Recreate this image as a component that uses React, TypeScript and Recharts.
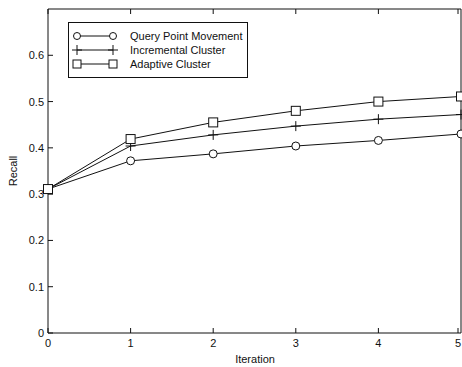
import React from 'react';
import { LineChart, Line, XAxis, YAxis } from 'recharts';

const iterations = [0, 1, 2, 3, 4, 5];
const yTicks = [0, 0.1, 0.2, 0.3, 0.4, 0.5, 0.6];
const queryPointMovement = [0.311, 0.372, 0.387, 0.404, 0.416, 0.43];
const incrementalCluster = [0.311, 0.404, 0.428, 0.447, 0.462, 0.472];
const adaptiveCluster = [0.311, 0.419, 0.455, 0.48, 0.5, 0.511];

const data = iterations.map((it, i) => ({
  iteration: it,
  query: queryPointMovement[i],
  incremental: incrementalCluster[i],
  adaptive: adaptiveCluster[i],
}));

const INK = '#111';
const FONT = '"Liberation Sans", Arial, sans-serif';

// marker shapes, same as the matlab ones
const circleDot = (p: any) => (
  <circle key={p.key} cx={p.cx} cy={p.cy} r={4} fill="#fff" stroke={INK} strokeWidth={1} />
);
const plusDot = (p: any) => (
  <path key={p.key} d={`M${p.cx - 5},${p.cy}H${p.cx + 5}M${p.cx},${p.cy - 5}V${p.cy + 5}`} stroke={INK} strokeWidth={1} />
);
const squareDot = (p: any) => (
  <rect key={p.key} x={p.cx - 4.5} y={p.cy - 4.5} width={9} height={9} fill="#fff" stroke={INK} strokeWidth={1} />
);

// inward tick marks, labels outside
const BottomTick = (p: any) => (
  <g>
    <line x1={p.x} x2={p.x} y1={p.y} y2={p.y - 5} stroke={INK} />
    <text x={p.x} y={p.y + 14} textAnchor="middle" fontSize={11} fontFamily={FONT} fill={INK}>
      {p.payload.value}
    </text>
  </g>
);
const TopTick = (p: any) => <line x1={p.x} x2={p.x} y1={p.y} y2={p.y + 5} stroke={INK} />;
const LeftTick = (p: any) => (
  <g>
    <line x1={p.x} x2={p.x + 5} y1={p.y} y2={p.y} stroke={INK} />
    <text x={p.x - 4} y={p.y + 4} textAnchor="end" fontSize={11} fontFamily={FONT} fill={INK}>
      {p.payload.value}
    </text>
  </g>
);
const RightTick = (p: any) => <line x1={p.x} x2={p.x - 5} y1={p.y} y2={p.y} stroke={INK} />;

const legendItems = [
  { name: 'Query Point Movement', marker: 'circle' },
  { name: 'Incremental Cluster', marker: 'plus' },
  { name: 'Adaptive Cluster', marker: 'square' },
];

const LegendMarker = ({ kind, x, y }: { kind: string; x: number; y: number }) => {
  if (kind === 'circle') return <circle cx={x} cy={y} r={3.5} fill="#fff" stroke={INK} />;
  if (kind === 'plus')
    return <path d={`M${x - 5},${y}H${x + 5}M${x},${y - 5}V${y + 5}`} stroke={INK} />;
  return <rect x={x - 4} y={y - 4} width={8} height={8} fill="#fff" stroke={INK} />;
};

export default function App() {
  return (
    <div style={{ position: 'absolute', left: 0, top: 0, width: 462, height: 367, background: '#fff' }}>
      <LineChart width={462} height={367} data={data} margin={{ top: 0, right: 0, bottom: 0, left: 0 }}>
        <XAxis
          dataKey="iteration"
          type="number"
          domain={[0, 5]}
          ticks={iterations}
          height={34}
          tickSize={0}
          tickMargin={0}
          tick={BottomTick}
          axisLine={{ stroke: INK }}
        />
        <XAxis
          xAxisId="top"
          orientation="top"
          dataKey="iteration"
          type="number"
          domain={[0, 5]}
          ticks={iterations}
          height={9}
          tickSize={0}
          tickMargin={0}
          tick={TopTick}
          axisLine={{ stroke: INK }}
        />
        <YAxis
          type="number"
          domain={[0, 0.7]}
          ticks={yTicks}
          width={48}
          tickSize={0}
          tickMargin={0}
          tick={LeftTick}
          axisLine={{ stroke: INK }}
        />
        <YAxis
          yAxisId="right"
          orientation="right"
          type="number"
          domain={[0, 0.7]}
          ticks={yTicks}
          width={1}
          tickSize={0}
          tickMargin={0}
          tick={RightTick}
          axisLine={{ stroke: INK }}
        />
        <Line dataKey="query" stroke={INK} strokeWidth={1} dot={circleDot} isAnimationActive={false} />
        <Line dataKey="incremental" stroke={INK} strokeWidth={1} dot={plusDot} isAnimationActive={false} />
        <Line dataKey="adaptive" stroke={INK} strokeWidth={1} dot={squareDot} isAnimationActive={false} />
      </LineChart>

      <div
        style={{
          position: 'absolute',
          left: 68,
          top: 22,
          width: 180,
          height: 56,
          border: `1px solid ${INK}`,
          boxSizing: 'border-box',
          background: '#fff',
          fontFamily: FONT,
          fontSize: 11,
          color: INK,
        }}
      >
        <svg width={60} height={54} style={{ position: 'absolute', left: 0, top: 0 }}>
          {legendItems.map((it, i) => {
            const y = 13 + i * 14;
            return (
              <g key={it.name}>
                <line x1={8} x2={44} y1={y} y2={y} stroke={INK} />
                <LegendMarker kind={it.marker} x={8} y={y} />
                <LegendMarker kind={it.marker} x={44} y={y} />
              </g>
            );
          })}
        </svg>
        {legendItems.map((it, i) => (
          <div key={it.name} style={{ position: 'absolute', left: 61, top: 6 + i * 14, lineHeight: '14px' }}>
            {it.name}
          </div>
        ))}
      </div>

      <div
        style={{
          position: 'absolute',
          left: 13,
          top: 171,
          transform: 'translate(-50%, -50%) rotate(-90deg)',
          fontFamily: FONT,
          fontSize: 11,
          color: INK,
        }}
      >
        Recall
      </div>
      <div
        style={{
          position: 'absolute',
          left: 255,
          top: 353,
          transform: 'translateX(-50%)',
          fontFamily: FONT,
          fontSize: 11,
          color: INK,
        }}
      >
        Iteration
      </div>
    </div>
  );
}
